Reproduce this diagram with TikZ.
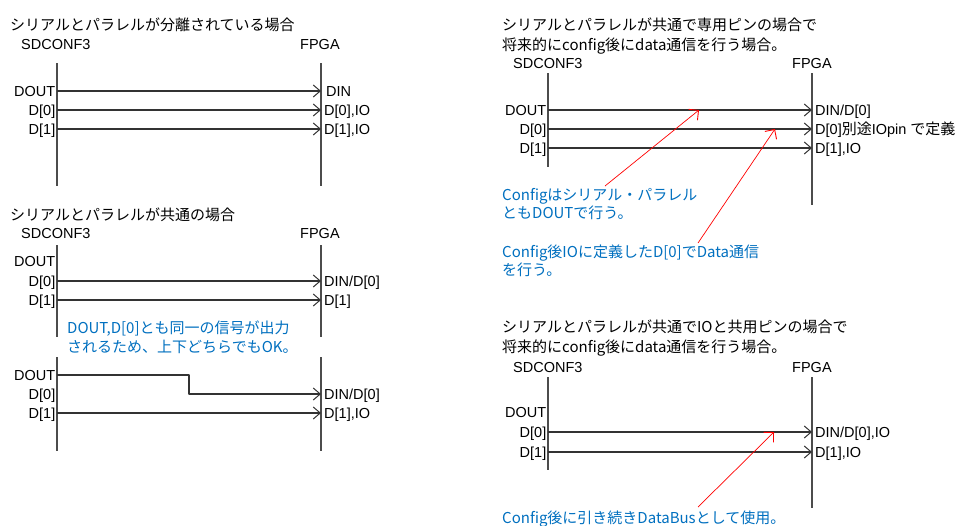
\documentclass[tikz,border=0pt]{standalone}
\usepackage{fontspec}
\setmainfont{Liberation Sans}
\newfontfamily\jpfont{Noto Sans CJK JP}
\usetikzlibrary{arrows.meta}
\definecolor{notecol}{RGB}{0,112,192}

\begin{document}
\begin{tikzpicture}[x=1pt, y=-1pt, line join=round,
    font=\fontsize{14.5}{17}\selectfont,
    bus/.style={line width=1.3pt, black!70},
    wire/.style={line width=1.1pt, black!80, -{Straight Barb[length=7pt,width=12pt,line width=1pt]}},
    pointer/.style={red, line width=0.7pt, -{Straight Barb[length=7pt,width=14pt,line width=0.9pt]}},
    chip/.style={anchor=west, text height=10.4pt, text depth=0pt, inner sep=0pt},
    pinL/.style={anchor=east, text height=10.4pt, text depth=0pt, inner xsep=1.5pt, inner ysep=0pt},
    pinR/.style={anchor=west, text height=10.4pt, text depth=0pt, inner xsep=3pt, inner ysep=0pt},
    head/.style={anchor=west, font=\jpfont\fontsize{15}{17}\selectfont, text height=10.8pt, text depth=0pt, inner sep=0pt},
    note/.style={head, text=notecol}]

    \useasboundingbox[fill=white] (0,0) rectangle (964,525);

    % ===== case A: serial and parallel separated =====
    \coordinate (aTL) at (57,63);   \coordinate (aBL) at (57,186);
    \coordinate (aTR) at (321,63);  \coordinate (aBR) at (321,186);
    \coordinate (aL1) at (57,91);   \coordinate (aR1) at (321,91);
    \coordinate (aL2) at (57,110);  \coordinate (aR2) at (321,110);
    \coordinate (aL3) at (57,129);  \coordinate (aR3) at (321,129);

    \draw[bus] (aTL) -- (aBL);
    \draw[bus] (aTR) -- (aBR);
    \draw[wire] (aL1) -- (aR1);
    \draw[wire] (aL2) -- (aR2);
    \draw[wire] (aL3) -- (aR3);

    \node[head] (aTitle) at (10,25) {シリアルとパラレルが分離されている場合};
    \node[chip] (aSrc) at (21,44) {SDCONF3};
    \node[chip] (aDst) at (300,44) {FPGA};
    \node[pinL] (aDOUT) at (aL1) {DOUT};
    \node[pinL] (aD0) at (aL2) {D[0]};
    \node[pinL] (aD1) at (aL3) {D[1]};
    \node[pinR, xshift=2pt] (aDIN) at (aR1) {DIN};
    \node[pinR] (aIO0) at (aR2) {D[0],IO};
    \node[pinR] (aIO1) at (aR3) {D[1],IO};

    % ===== case B: shared, straight =====
    \coordinate (bTL) at (57,245);  \coordinate (bBL) at (57,337);
    \coordinate (bTR) at (321,245); \coordinate (bBR) at (321,337);
    \coordinate (bL1) at (57,261);
    \coordinate (bL2) at (57,281);  \coordinate (bR2) at (321,281);
    \coordinate (bL3) at (57,300);  \coordinate (bR3) at (321,300);

    \draw[bus] (bTL) -- (bBL);
    \draw[bus] (bTR) -- (bBR);
    \draw[wire] (bL2) -- (bR2);
    \draw[wire] (bL3) -- (bR3);

    \node[head] (bTitle) at (10,215) {シリアルとパラレルが共通の場合};
    \node[chip] (bSrc) at (21,233) {SDCONF3};
    \node[chip] (bDst) at (300,233) {FPGA};
    \node[pinL] (bDOUT) at (bL1) {DOUT};
    \node[pinL] (bD0) at (bL2) {D[0]};
    \node[pinL] (bD1) at (bL3) {D[1]};
    \node[pinR] (bDIN) at (bR2) {DIN/D[0]};
    \node[pinR] (bIO1) at (bR3) {D[1]};
    \node[note] (bNote1) at (67,328) {DOUT,D[0]とも同一の信号が出力};
    \node[note] (bNote2) at (67,347) {されるため、上下どちらでもOK。};

    % ===== case C: shared, DOUT routed =====
    \coordinate (cTL) at (57,357);  \coordinate (cBL) at (57,451);
    \coordinate (cTR) at (321,357); \coordinate (cBR) at (321,451);
    \coordinate (cL1) at (57,375);  \coordinate (cK)  at (189,375);
    \coordinate (cL2) at (57,394);  \coordinate (cR2) at (321,394);
    \coordinate (cL3) at (57,413);  \coordinate (cR3) at (321,413);

    \draw[bus] (cTL) -- (cBL);
    \draw[bus] (cTR) -- (cBR);
    \draw[wire] (cL1) -- (cK) |- (cR2);
    \draw[wire] (cL3) -- (cR3);

    \node[pinL] (cDOUT) at (cL1) {DOUT};
    \node[pinL] (cD0) at (cL2) {D[0]};
    \node[pinL] (cD1) at (cL3) {D[1]};
    \node[pinR] (cDIN) at (cR2) {DIN/D[0]};
    \node[pinR] (cIO1) at (cR3) {D[1],IO};

    % ===== case D: shared, dedicated pin =====
    \coordinate (dTL) at (548,73);  \coordinate (dBL) at (548,167);
    \coordinate (dTR) at (812,73);  \coordinate (dBR) at (812,205);
    \coordinate (dL1) at (548,110); \coordinate (dR1) at (812,110);
    \coordinate (dL2) at (548,129); \coordinate (dR2) at (812,129);
    \coordinate (dL3) at (548,148); \coordinate (dR3) at (812,148);
    \coordinate (dP1) at (605,186); \coordinate (dQ1) at (699,110);
    \coordinate (dP2) at (698,243); \coordinate (dQ2) at (775,129);

    \draw[bus] (dTL) -- (dBL);
    \draw[bus] (dTR) -- (dBR);
    \draw[wire] (dL1) -- (dR1);
    \draw[wire] (dL2) -- (dR2);
    \draw[wire] (dL3) -- (dR3);
    \draw[pointer] (dP1) -- (dQ1);
    \draw[pointer] (dP2) -- (dQ2);

    \node[head] (dTitle1) at (502,25) {シリアルとパラレルが共通で専用ピンの場合で};
    \node[head] (dTitle2) at (502,45) {将来的にconfig後にdata通信を行う場合。};
    \node[chip] (dSrc) at (513,63) {SDCONF3};
    \node[chip] (dDst) at (792,63) {FPGA};
    \node[pinL] (dDOUT) at (dL1) {DOUT};
    \node[pinL] (dD0) at (dL2) {D[0]};
    \node[pinL] (dD1) at (dL3) {D[1]};
    \node[pinR] (dDIN) at (dR1) {DIN/D[0]};
    \node[pinR] (dIO0) at (dR2) {D[0]{\jpfont\fontsize{15}{17}\selectfont 別途}IOpin {\jpfont\fontsize{15}{17}\selectfont で定義}};
    \node[pinR] (dIO1) at (dR3) {D[1],IO};
    \node[note] (dNote1) at (502,195) {Configはシリアル・パラレル};
    \node[note] (dNote2) at (502,213) {ともDOUTで行う。};
    \node[note] (dNote3) at (502,252) {Config後IOに定義したD[0]でData通信};
    \node[note] (dNote4) at (502,270) {を行う。};

    % ===== case E: shared with IO pin =====
    \coordinate (eTL) at (548,377); \coordinate (eBL) at (548,470);
    \coordinate (eTR) at (812,377); \coordinate (eBR) at (812,508);
    \coordinate (eL1) at (548,412);
    \coordinate (eL2) at (548,432); \coordinate (eR2) at (812,432);
    \coordinate (eL3) at (548,452); \coordinate (eR3) at (812,452);
    \coordinate (eP1) at (698,507); \coordinate (eQ1) at (774,432);

    \draw[bus] (eTL) -- (eBL);
    \draw[bus] (eTR) -- (eBR);
    \draw[wire] (eL2) -- (eR2);
    \draw[wire] (eL3) -- (eR3);
    \draw[pointer] (eP1) -- (eQ1);

    \node[head] (eTitle1) at (502,327) {シリアルとパラレルが共通でIOと共用ピンの場合で};
    \node[head] (eTitle2) at (502,347) {将来的にconfig後にdata通信を行う場合。};
    \node[chip] (eSrc) at (513,367) {SDCONF3};
    \node[chip] (eDst) at (792,367) {FPGA};
    \node[pinL] (eDOUT) at (eL1) {DOUT};
    \node[pinL] (eD0) at (eL2) {D[0]};
    \node[pinL] (eD1) at (eL3) {D[1]};
    \node[pinR] (eDIN) at (eR2) {DIN/D[0],IO};
    \node[pinR] (eIO1) at (eR3) {D[1],IO};
    \node[note] (eNote) at (502,518) {Config後に引き続きDataBusとして使用。};
\end{tikzpicture}
\end{document}
